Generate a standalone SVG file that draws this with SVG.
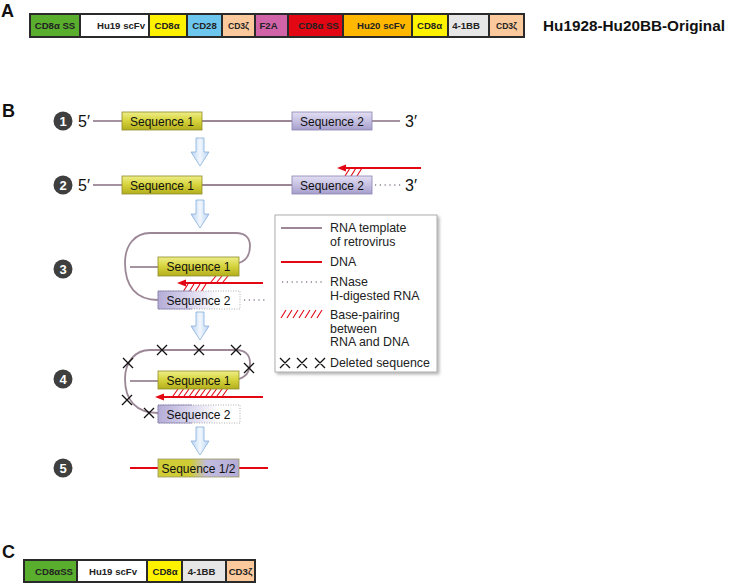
<svg xmlns="http://www.w3.org/2000/svg" width="733" height="585" viewBox="0 0 733 585">
<style>
text{font-family:"Liberation Sans",Arial,sans-serif;}
.lbl{font-size:18px;font-weight:bold;fill:#111;}
.bt{font-size:9.6px;font-weight:bold;fill:#222;text-anchor:middle;}
.seg{stroke:#2a2a2a;stroke-width:2;}
.num{font-size:13px;font-weight:bold;fill:#fff;text-anchor:middle;}
.end{font-size:16px;fill:#111;}
.sq{font-size:12px;fill:#111;text-anchor:middle;}
.lg{font-size:12.4px;fill:#222;}
.rna{fill:none;stroke:#9c8796;stroke-width:1.8;}
.dot{fill:none;stroke:#8c7f90;stroke-width:1.4;stroke-dasharray:1.2,3.6;}
.dna{fill:none;stroke:#e30613;stroke-width:2;}
.hat{stroke:#e30613;stroke-width:1.1;}
.x{stroke:#111;stroke-width:1.3;}
.s1{fill:url(#g1);stroke:#8f8c2a;stroke-width:0.8;}
.s2{fill:url(#g2);stroke:#8a83b3;stroke-width:0.8;}
</style>
<defs>
<linearGradient id="g1" x1="0" y1="0" x2="0" y2="1"><stop offset="0" stop-color="#eeed8a"/><stop offset="0.45" stop-color="#d8d640"/><stop offset="1" stop-color="#b3ae1c"/></linearGradient>
<linearGradient id="g2" x1="0" y1="0" x2="0" y2="1"><stop offset="0" stop-color="#e2def2"/><stop offset="0.5" stop-color="#c6c0e2"/><stop offset="1" stop-color="#a69ecb"/></linearGradient>
<linearGradient id="g2f" x1="0" y1="0" x2="1" y2="0"><stop offset="0" stop-color="#b4acd6"/><stop offset="0.35" stop-color="#d6d2ec"/><stop offset="0.75" stop-color="#ffffff"/></linearGradient>
<linearGradient id="g12" x1="0" y1="0" x2="1" y2="0"><stop offset="0.4" stop-color="#cfcc35"/><stop offset="0.6" stop-color="#c2bce0"/><stop offset="1" stop-color="#b4acd6"/></linearGradient>
<linearGradient id="ga" x1="0" y1="0" x2="1" y2="0"><stop offset="0" stop-color="#b7d3f1"/><stop offset="0.5" stop-color="#f2f7fd"/><stop offset="1" stop-color="#b7d3f1"/></linearGradient>
<path id="darr" d="M-4,0 L4,0 L4,14 L9,14 L0,28 L-9,14 L-4,14 Z" fill="url(#ga)" stroke="#86addb" stroke-width="0.8"/>
<marker id="ah" markerUnits="userSpaceOnUse" markerWidth="10" markerHeight="8" refX="0" refY="4" orient="auto"><path d="M0,0.5 L9,4 L0,7.5 Z" fill="#e30613"/></marker>
<filter id="sh" x="-5%" y="-5%" width="115%" height="115%"><feDropShadow dx="2" dy="2" stdDeviation="1.5" flood-color="#000" flood-opacity="0.3"/></filter>
</defs>

<g id="panel-labels">
<text class="lbl" x="1" y="17">A</text>
<text class="lbl" x="2" y="117">B</text>
<text class="lbl" x="2" y="558">C</text>
</g>

<g id="construct-A">
<rect class="seg" x="30" y="14" width="50" height="23" fill="#5aae2e"/>
<rect class="seg" x="80" y="14" width="69" height="23" fill="#ffffff"/>
<rect class="seg" x="149" y="14" width="38" height="23" fill="#fff200"/>
<rect class="seg" x="187" y="14" width="35" height="23" fill="#6dc6ee"/>
<rect class="seg" x="222" y="14" width="33" height="23" fill="#fbc99c"/>
<rect class="seg" x="255" y="14" width="33" height="23" fill="#d163a8"/>
<rect class="seg" x="288" y="14" width="55" height="23" fill="#e30613"/>
<rect class="seg" x="343" y="14" width="69" height="23" fill="#ffb700"/>
<rect class="seg" x="412" y="14" width="36" height="23" fill="#fff200"/>
<rect class="seg" x="448" y="14" width="41" height="23" fill="#e6e6e6"/>
<rect class="seg" x="489" y="14" width="35" height="23" fill="#fbc99c"/>
<text class="bt" x="55" y="29">CD8α SS</text>
<text class="bt" x="121" y="29">Hu19 scFv</text>
<text class="bt" x="167" y="29">CD8α</text>
<text class="bt" x="204.5" y="29">CD28</text>
<text class="bt" x="238.5" y="29" style="font-size:8.6px">CD3ζ</text>
<text class="bt" x="268.5" y="29">F2A</text>
<text class="bt" x="318.5" y="29">CD8α SS</text>
<text class="bt" x="381" y="29">Hu20 scFv</text>
<text class="bt" x="429.5" y="29">CD8α</text>
<text class="bt" x="466" y="29">4-1BB</text>
<text class="bt" x="506.5" y="29" style="font-size:8.6px">CD3ζ</text>
<text x="543" y="31" style="font-size:15.3px;font-weight:bold;fill:#111">Hu1928-Hu20BB-Original</text>
</g>

<g id="connectors">
<!-- row 1 -->
<line class="rna" x1="93" y1="121" x2="122" y2="121"/>
<line class="rna" x1="202" y1="121" x2="292" y2="121"/>
<line class="rna" x1="372" y1="121" x2="400" y2="121"/>
<!-- row 2 -->
<line class="rna" x1="93" y1="185" x2="122" y2="185"/>
<line class="rna" x1="202" y1="185" x2="292" y2="185"/>
<line class="dot" x1="375" y1="185" x2="401" y2="185"/>
<line class="dna" x1="421" y1="168" x2="346" y2="168" marker-end="url(#ah)"/>
<path class="hat" d="M345,176 L350,168 M351,176 L356,168 M357,176 L362,168"/>
<!-- row 3 -->
<line class="rna" x1="130" y1="267" x2="158" y2="267"/>
<path class="rna" d="M239,263 C248,260 250,253 250,246 C250,238 245,233 236,233 L150,233 C135,233 125,245 125,263 C125,286 136,300 158,300"/>
<line class="dot" x1="244" y1="300" x2="268" y2="300"/>
<line class="dna" x1="263" y1="283" x2="186" y2="283" marker-end="url(#ah)"/>
<path class="hat" d="M211,282 L216,276 M217,282 L222,276 M223,282 L228,276"/>
<path class="hat" d="M183,292 L188,284 M189,292 L194,284 M195,292 L200,284 M201,292 L206,284"/>
<!-- row 4 -->
<line class="rna" x1="130" y1="381" x2="158" y2="381"/>
<path class="rna" d="M239,379 C248,376 250,370 250,363 C250,355 245,350 236,350 L150,350 C135,350 125,362 125,379 C125,400 136,413 158,413"/>
<line class="dna" x1="263" y1="397" x2="164" y2="397" marker-end="url(#ah)"/>
<path class="hat" d="M173,396 L178,389 M178.5,396 L183.5,389 M184,396 L189,389 M189.5,396 L194.5,389 M195,396 L200,389 M200.5,396 L205.5,389 M206,396 L211,389 M211.5,396 L216.5,389 M217,396 L222,389 M222.5,396 L227.5,389"/>
<path class="x" d="M157,345 L167,355 M167,345 L157,355 M194,345 L204,355 M204,345 L194,355 M231,345 L241,355 M241,345 L231,355 M244,363 L254,373 M254,363 L244,373 M123,358 L133,368 M133,358 L123,368 M122,395 L132,405 M132,395 L122,405 M144,408 L154,418 M154,408 L144,418"/>
<!-- row 5 -->
<line class="dna" x1="130" y1="468" x2="158" y2="468"/>
<line class="dna" x1="239" y1="468" x2="268" y2="468"/>
<!-- down arrows -->
<use href="#darr" x="200" y="138"/>
<use href="#darr" x="200" y="200"/>
<use href="#darr" x="200" y="312"/>
<use href="#darr" x="200" y="427"/>
</g>

<g id="row-numbers">
<circle cx="63" cy="121" r="9.5" fill="#3f3f3f"/><text class="num" x="63" y="126">1</text>
<circle cx="63" cy="185" r="9.5" fill="#3f3f3f"/><text class="num" x="63" y="190">2</text>
<circle cx="63" cy="269" r="9.5" fill="#3f3f3f"/><text class="num" x="63" y="274">3</text>
<circle cx="63" cy="379" r="9.5" fill="#3f3f3f"/><text class="num" x="63" y="384">4</text>
<circle cx="63" cy="468" r="9.5" fill="#3f3f3f"/><text class="num" x="63" y="473">5</text>
</g>

<g id="ends">
<text class="end" x="78" y="127">5′</text>
<text class="end" x="405" y="127">3′</text>
<text class="end" x="78" y="191">5′</text>
<text class="end" x="405" y="191">3′</text>
</g>

<g id="row1-seq1"><rect class="s1" x="122" y="112" width="80" height="18"/><text class="sq" x="162" y="125.5">Sequence 1</text></g>
<g id="row1-seq2"><rect class="s2" x="292" y="112" width="80" height="18"/><text class="sq" x="332" y="125.5">Sequence 2</text></g>
<g id="row2-seq1"><rect class="s1" x="122" y="176" width="80" height="18"/><text class="sq" x="162" y="189.5">Sequence 1</text></g>
<g id="row2-seq2"><rect class="s2" x="292" y="176" width="80" height="18"/><text class="sq" x="332" y="189.5">Sequence 2</text></g>

<g id="row3-seq1"><rect class="s1" x="158" y="257" width="81" height="19"/><text class="sq" x="198.5" y="271">Sequence 1</text></g>
<g id="row3-seq2"><rect x="158" y="291" width="82" height="18" fill="url(#g2f)" stroke="#9a9a9a" stroke-width="0.8" stroke-dasharray="1,1.5"/><path d="M192,291 L158,291 L158,309 L192,309" fill="none" stroke="#8a83b3" stroke-width="0.8"/><text class="sq" x="198.5" y="304.5">Sequence 2</text></g>

<g id="row4-seq1"><rect class="s1" x="158" y="371" width="81" height="18"/><text class="sq" x="198.5" y="384.5">Sequence 1</text></g>
<g id="row4-seq2"><rect x="158" y="405" width="82" height="18" fill="url(#g2f)" stroke="#9a9a9a" stroke-width="0.8" stroke-dasharray="1,1.5"/><path d="M192,405 L158,405 L158,423 L192,423" fill="none" stroke="#8a83b3" stroke-width="0.8"/><text class="sq" x="198.5" y="418.5">Sequence 2</text></g>

<g id="row5-seq12"><rect x="158" y="459" width="81" height="18" fill="url(#g12)" stroke="#9a9860" stroke-width="0.8"/><text class="sq" x="198.5" y="472.5">Sequence 1/2</text></g>

<g id="legend">
<rect x="275" y="215" width="162" height="157" fill="#fff" stroke="#9a9a9a" stroke-width="0.8" filter="url(#sh)"/>
<line class="rna" x1="281" y1="228" x2="322" y2="228"/>
<text class="lg" x="330" y="232">RNA template</text>
<text class="lg" x="330" y="245.5">of retrovirus</text>
<line class="dna" x1="281" y1="262" x2="322" y2="262"/>
<text class="lg" x="330" y="266">DNA</text>
<line class="dot" x1="282" y1="282" x2="323" y2="282"/>
<text class="lg" x="330" y="286">RNase</text>
<text class="lg" x="330" y="299.5">H-digested RNA</text>
<path class="hat" d="M281,318 L286,310 M287,318 L292,310 M293,318 L298,310 M299,318 L304,310 M305,318 L310,310 M311,318 L316,310 M317,318 L322,310"/>
<text class="lg" x="330" y="319">Base-pairing</text>
<text class="lg" x="330" y="332.5">between</text>
<text class="lg" x="330" y="346">RNA and DNA</text>
<path class="x" d="M280,358 L290,368 M290,358 L280,368 M297,358 L307,368 M307,358 L297,368 M315,358 L325,368 M325,358 L315,368"/>
<text class="lg" x="330" y="367">Deleted sequence</text>
</g>

<g id="construct-C">
<rect class="seg" x="24" y="560" width="53" height="22" fill="#5aae2e"/>
<rect class="seg" x="77" y="560" width="70" height="22" fill="#ffffff"/>
<rect class="seg" x="147" y="560" width="35" height="22" fill="#fff200"/>
<rect class="seg" x="182" y="560" width="44" height="22" fill="#e6e6e6"/>
<rect class="seg" x="226" y="560" width="29" height="22" fill="#fbc99c"/>
<text class="bt" x="54" y="575">CD8αSS</text>
<text class="bt" x="113" y="575">Hu19 scFv</text>
<text class="bt" x="165" y="575">CD8α</text>
<text class="bt" x="201.5" y="575">4-1BB</text>
<text class="bt" x="240.5" y="575">CD3ζ</text>
</g>
</svg>
